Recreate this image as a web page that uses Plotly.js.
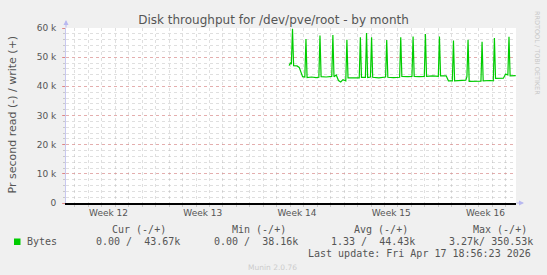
<!DOCTYPE html>
<html>
<head>
<meta charset="utf-8">
<script src="https://cdn.plot.ly/plotly-3.0.1.min.js"></script>
<style>
html,body{margin:0;padding:0;background:#F0F0F0;}
#chart{width:547px;height:275px;}
</style>
</head>
<body>
<div id="chart"></div>
<script>
// ---- data (write throughput, k bytes/s) ----
const times = [
"2026-03-31 22:00","2026-04-01 00:00","2026-04-01 02:00","2026-04-01 04:00","2026-04-01 06:00",
"2026-04-01 12:00","2026-04-01 16:00","2026-04-01 20:00","2026-04-01 22:00","2026-04-02 02:00",
"2026-04-02 04:00","2026-04-02 06:00","2026-04-02 14:00","2026-04-02 22:00","2026-04-03 03:00",
"2026-04-03 05:00","2026-04-03 07:00","2026-04-03 16:00","2026-04-04 02:00","2026-04-04 04:00",
"2026-04-04 06:00","2026-04-04 10:00","2026-04-04 14:00","2026-04-04 18:00","2026-04-04 22:00",
"2026-04-05 03:00","2026-04-05 05:00","2026-04-05 07:00","2026-04-05 16:00","2026-04-06 03:00",
"2026-04-06 05:00","2026-04-06 07:00","2026-04-06 14:00","2026-04-06 16:00","2026-04-06 18:00",
"2026-04-06 23:00","2026-04-07 01:00","2026-04-07 03:00","2026-04-07 14:00","2026-04-08 02:00",
"2026-04-08 04:00","2026-04-08 06:00","2026-04-08 16:00","2026-04-09 03:00","2026-04-09 05:00",
"2026-04-09 07:00","2026-04-09 18:00","2026-04-10 01:00","2026-04-10 03:00","2026-04-10 05:00",
"2026-04-10 14:00","2026-04-10 23:00","2026-04-11 01:00","2026-04-11 03:00","2026-04-11 14:00",
"2026-04-12 00:00","2026-04-12 02:00","2026-04-12 04:00","2026-04-12 14:00","2026-04-12 18:00",
"2026-04-13 01:00","2026-04-13 03:00","2026-04-13 05:00","2026-04-13 16:00","2026-04-14 01:00",
"2026-04-14 03:00","2026-04-14 05:00","2026-04-14 07:00","2026-04-14 18:00","2026-04-15 04:00",
"2026-04-15 06:00","2026-04-15 08:00","2026-04-15 20:00","2026-04-16 02:00","2026-04-16 04:00",
"2026-04-16 06:00","2026-04-16 20:00","2026-04-17 00:00","2026-04-17 04:00","2026-04-17 06:00",
"2026-04-17 08:00","2026-04-17 18:00"
];
const write_k = [
47.1,48.0,47.6,59.7,47.1,
47.0,46.5,44.2,43.3,43.2,
56.2,43.0,43.2,43.0,43.1,
57.4,43.3,43.2,43.4,57.6,
43.3,43.9,42.0,41.5,42.3,
41.9,56.0,42.9,43.0,42.9,
56.8,43.1,43.1,58.3,43.0,
43.2,56.8,43.1,42.9,43.2,
55.9,43.1,43.0,43.1,56.8,
43.4,43.3,43.4,57.1,43.4,
43.3,43.4,57.9,43.4,43.6,
43.4,57.1,43.6,43.6,41.9,
41.9,55.7,41.9,42.0,42.1,
43.3,56.0,41.7,41.7,41.8,
55.3,41.9,42.0,41.9,56.6,
42.7,42.8,44.2,43.9,57.0,
43.6,43.67
];

const weekTickDates = ["2026-03-18 12:00","2026-03-25 12:00","2026-04-01 12:00","2026-04-08 12:00","2026-04-15 12:00"];
const weekLabels = ["Week 12","Week 13","Week 14","Week 15","Week 16"];
const yTickVals = [0,10,20,30,40,50,60];
const yTickText = ["0","10 k","20 k","30 k","40 k","50 k","60 k"];

const legendName = "Bytes";
const statHeaders = ["Cur (-/+)","Min (-/+)","Avg (-/+)","Max (-/+)"];
const statValues = ["0.00 /  43.67k","0.00 /  38.16k","1.33 /  44.43k","3.27k/ 350.53k"];
const lastUpdate = "Last update: Fri Apr 17 18:56:23 2026";

// ---- layout helpers ----
const L = 66, R = 516, T = 28, B = 203;
const px2x = p => (p - L) / (R - L);
const py2y = p => (B - p) / (B - T);
const nb = s => s.replace(/ /g, "\u00A0");

const xRange = ["2026-03-15 08:10", "2026-04-17 18:30"];
const DAY = 86400000;
const sans = "DejaVu Sans";
const mono = "DejaVu Sans Mono";
const txt = "#555555";
const minorGrid = "rgba(175,175,175,0.4)";
const majorGrid = "rgba(235,100,100,0.4)";

const trace = {
  x: times, y: write_k, type: "scatter", mode: "lines",
  line: {color: "#00CC00", width: 1.2}, hoverinfo: "skip", showlegend: false,
  xaxis: "x", yaxis: "y"
};

const ann = [];
const colX = [95, 212.5, 330, 447.7];
const hdrX = [110.8, 231, 352.6, 472];
statHeaders.forEach((h, i) => ann.push({xref:"paper", yref:"paper", x:px2x(hdrX[i]-1), y:py2y(229), xanchor:"left", yanchor:"middle",
  text:nb(h), showarrow:false, font:{family:mono, size:10, color:txt}}));
statValues.forEach((v, i) => ann.push({xref:"paper", yref:"paper", x:px2x(colX[i]-1), y:py2y(241.6), xanchor:"left", yanchor:"middle",
  text:nb(v), showarrow:false, font:{family:mono, size:10, color:txt}}));
ann.push({xref:"paper", yref:"paper", x:px2x(25), y:py2y(241.6), xanchor:"left", yanchor:"middle",
  text:legendName, showarrow:false, font:{family:mono, size:10, color:txt}});
ann.push({xref:"paper", yref:"paper", x:px2x(533), y:py2y(253.8), xanchor:"right", yanchor:"middle",
  text:nb(lastUpdate), showarrow:false, font:{family:mono, size:10, color:txt}});
ann.push({xref:"paper", yref:"paper", x:px2x(272.5), y:py2y(267), xanchor:"center", yanchor:"middle",
  text:"Munin 2.0.76", showarrow:false, font:{family:sans, size:7.5, color:"#cccccc"}});
ann.push({xref:"paper", yref:"paper", x:px2x(537), y:py2y(53), xanchor:"center", yanchor:"middle", textangle:90,
  text:"RRDTOOL / TOBI OETIKER", showarrow:false, font:{family:sans, size:6.5, color:"#c8c8c8"}});
ann.push({xref:"paper", yref:"paper", x:px2x(11.5), y:py2y(115), xanchor:"center", yanchor:"middle", textangle:-90,
  text:"Pr second read (-) / write (+)", showarrow:false, font:{family:sans, size:11, color:txt}});
// axis arrows
ann.push({xref:"paper", yref:"paper", x:px2x(524), y:0, ax:-9, ay:0, text:"", showarrow:true,
  arrowhead:2, arrowsize:1, arrowwidth:1, arrowcolor:"#b8b8f0"});
ann.push({xref:"paper", yref:"paper", x:0, y:py2y(20), ax:0, ay:9, text:"", showarrow:true,
  arrowhead:2, arrowsize:1, arrowwidth:1, arrowcolor:"#b8b8f0"});

const layout = {
  width: 547, height: 275,
  margin: {l: L, r: 547 - R, t: T, b: 275 - B, pad: 0},
  paper_bgcolor: "#F0F0F0", plot_bgcolor: "#FFFFFF",
  showlegend: false,
  title: {text: "Disk throughput for /dev/pve/root - by month", x: 0.5, xref: "container", xanchor: "center",
    y: 1 - 20/275, yref: "container", yanchor: "middle", font: {family: sans, size: 12, color: txt}},
  xaxis: {
    type: "date", range: xRange, tickmode: "array", tickvals: weekTickDates, ticktext: weekLabels,
    ticks: "", showgrid: false, zeroline: false, showline: true, linecolor: "#000000", linewidth: 2,
    tickfont: {family: sans, size: 9, color: txt}, ticklabelstandoff: 0,
    minor: {tickmode: "linear", tick0: "2026-03-22", dtick: DAY, showgrid: true, gridcolor: minorGrid,
      griddash: "dot", gridwidth: 1, ticks: "outside", ticklen: 2, tickcolor: "#c8c8c8"},
    fixedrange: true
  },
  xaxis2: {
    type: "date", range: xRange, overlaying: "x", anchor: "y", side: "bottom",
    tickmode: "linear", tick0: "2026-03-22", dtick: 7 * DAY, showticklabels: false,
    showgrid: true, gridcolor: majorGrid, griddash: "dot", gridwidth: 1,
    ticks: "outside", ticklen: 3, tickcolor: "rgba(230,90,90,0.6)", showline: false, zeroline: false,
    fixedrange: true
  },
  yaxis: {
    range: [0, 60], tickmode: "array", tickvals: yTickVals, ticktext: yTickText,
    showgrid: true, gridcolor: majorGrid, griddash: "dot", gridwidth: 1,
    zeroline: false, showline: true, linecolor: "#c8c8f0", linewidth: 1,
    ticks: "outside", ticklen: 3, tickcolor: "rgba(230,90,90,0.6)",
    tickfont: {family: sans, size: 9, color: txt}, ticklabelstandoff: 4,
    minor: {tickmode: "linear", tick0: 0, dtick: 2, showgrid: true, gridcolor: minorGrid,
      griddash: "dot", gridwidth: 1, ticks: "outside", ticklen: 2, tickcolor: "#c8c8c8"},
    fixedrange: true
  },
  annotations: ann,
  shapes: [{type: "rect", xref: "paper", yref: "paper", x0: px2x(14), x1: px2x(20.5), y0: py2y(245), y1: py2y(238.5),
    fillcolor: "#00CC00", line: {width: 0}}]
};

Plotly.newPlot("chart", [trace], layout, {staticPlot: true, displayModeBar: false});
</script>
</body>
</html>
